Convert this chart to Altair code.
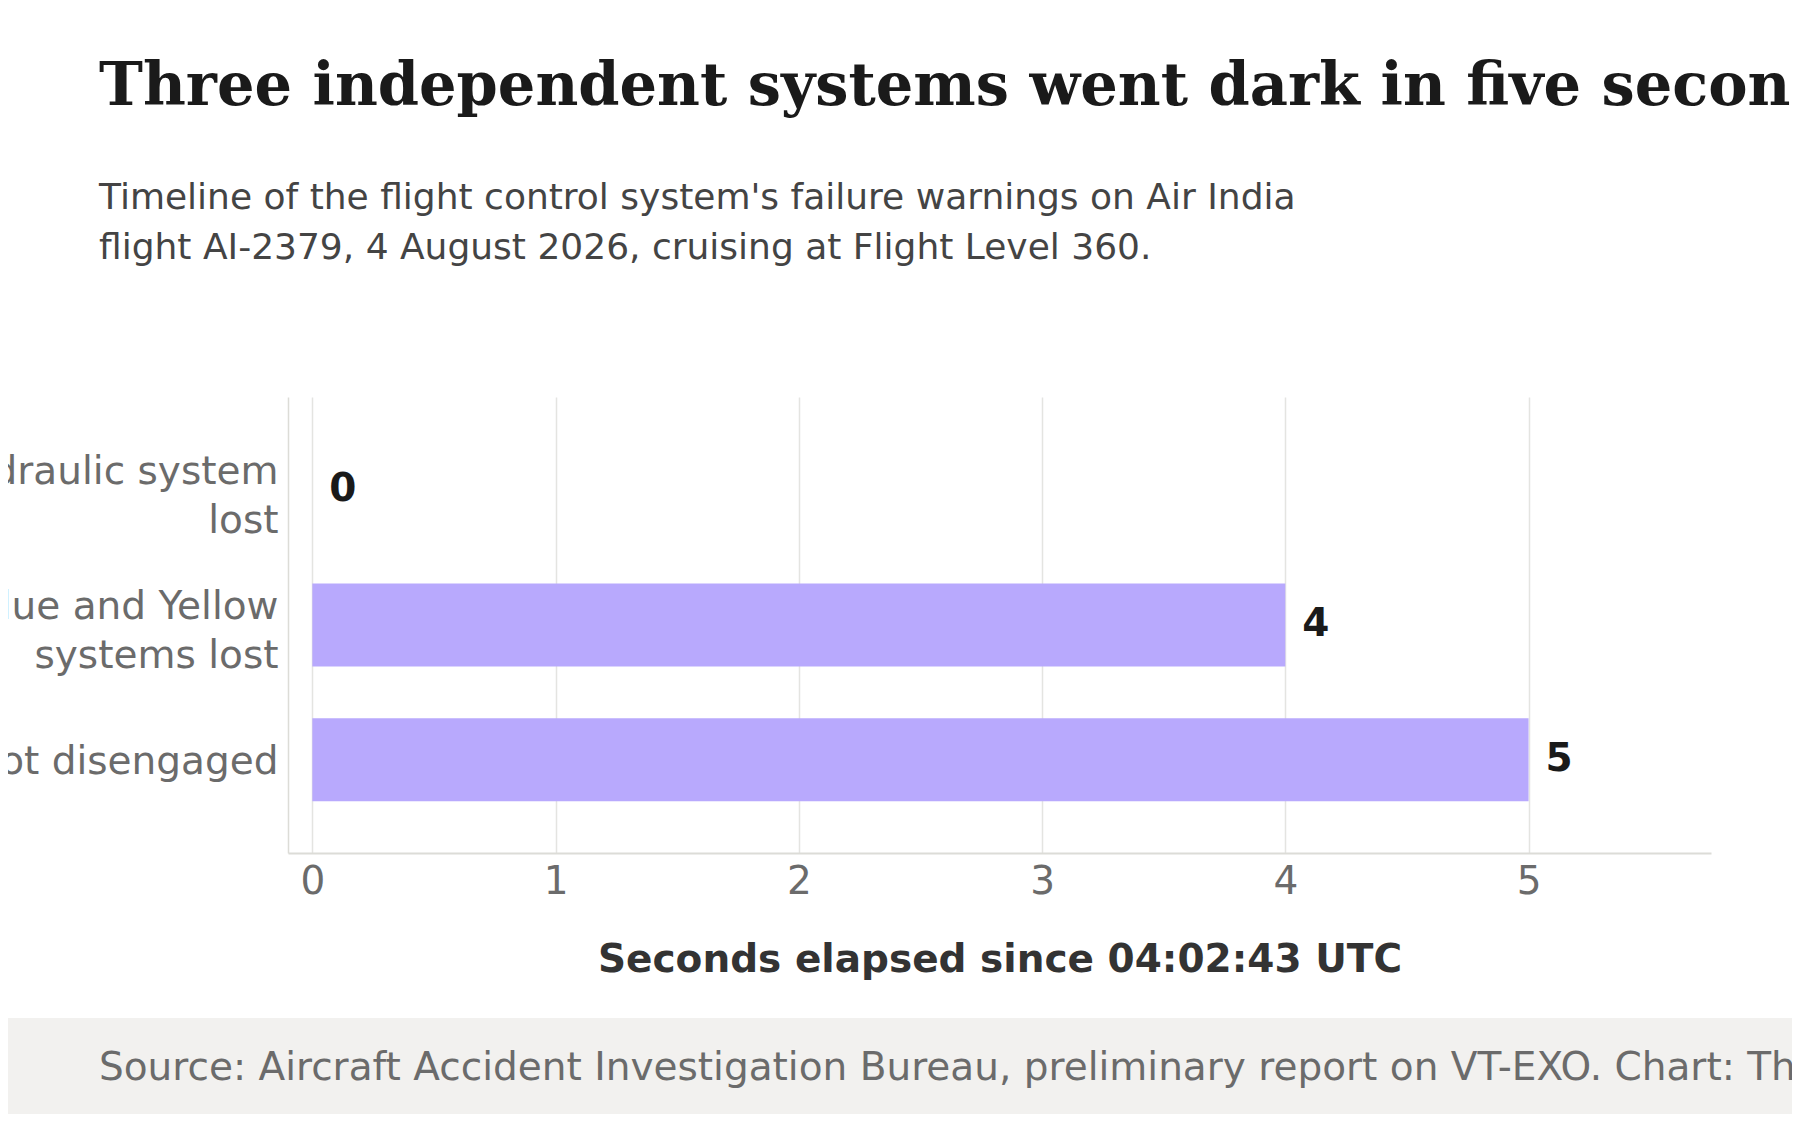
import altair as alt
import pandas as pd

TITLE = "Three independent systems went dark in five seconds"
SUBTITLE = [
    "Timeline of the flight control system's failure warnings on Air India",
    "flight AI-2379, 4 August 2026, cruising at Flight Level 360.",
]
SOURCE = "Source: Aircraft Accident Investigation Bureau, preliminary report on VT-EXO. Chart: The"

EVENT_LINES = [
    ["Green hydraulic system", "lost"],
    ["Blue and Yellow", "systems lost"],
    ["Autopilot disengaged"],
]
EVENTS = [" ".join(lines) for lines in EVENT_LINES]
SECONDS = [0, 4, 5]
TICKS = [0, 1, 2, 3, 4, 5]

BAR = "#b8a9fd"
INK = "#1a1a1a"
MUTED = "#6b6b6b"

df = pd.DataFrame({"event": EVENTS, "seconds": SECONDS})
footer = pd.DataFrame({"text": [SOURCE]})

# multi-line y labels, two-line ones nudged up so the block sits centred
label_expr = "datum.label"
for name, lines in reversed(list(zip(EVENTS, EVENT_LINES))):
    arr = "[" + ", ".join(f"'{l}'" for l in lines) + "]"
    label_expr = f"datum.label == '{name}' ? {arr} : ({label_expr})"
single = [name for name, lines in zip(EVENTS, EVENT_LINES) if len(lines) == 1]
single_test = " || ".join(f"datum.value == '{name}'" for name in single)

y = alt.Y(
    "event:N",
    sort=EVENTS,
    title=None,
    scale=alt.Scale(paddingInner=0.385, paddingOuter=0.385),
    axis=alt.Axis(
        labelExpr=label_expr,
        labelFontSize=39,
        labelLineHeight=49,
        labelColor=MUTED,
        labelPadding=10,
        labelLimit=0,
        labelOffset={"condition": {"test": single_test, "value": 2.5}, "value": -18.5},
        ticks=False,
        domainColor="#dcdcd7",
        domainWidth=1.5,
    ),
)
x = alt.X(
    "seconds:Q",
    title="Seconds elapsed since 04:02:43 UTC",
    scale=alt.Scale(domain=[-0.1, 5.75], nice=False, zero=False),
    axis=alt.Axis(
        values=TICKS,
        format="d",
        labelFontSize=39,
        labelColor=MUTED,
        labelPadding=9,
        ticks=False,
        grid=True,
        gridColor="#e4e4e1",
        gridWidth=1.5,
        domainColor="#dcdcd7",
        domainWidth=2,
        titleFontSize=39,
        titleFontWeight="bold",
        titleColor="#333333",
        titlePadding=39,
    ),
)

bars = alt.Chart(df).mark_bar(color=BAR).encode(x=x, x2=alt.datum(0), y=y)
labels = alt.Chart(df).mark_text(
    align="left", baseline="middle", dx=17, dy=-1, fontSize=39, fontWeight="bold", color=INK
).encode(x=x, y=y, text=alt.Text("seconds:Q", format="d"))

band = alt.Chart(footer).mark_rect(color="#f2f1ef").encode(
    x=alt.value(-300), x2=alt.value(1540), y=alt.value(621), y2=alt.value(730)
)
source = alt.Chart(footer).mark_text(
    align="left", baseline="alphabetic", fontSize=39, color=MUTED
).encode(x=alt.value(-189), y=alt.value(683), text="text:N")

chart = (
    alt.layer(band, source, bars, labels)
    .properties(
        width=1423,
        height=456,
        autosize=alt.AutoSizeParams(type="none"),
        padding={"left": 280, "top": 389, "right": 81, "bottom": 261},
        title=alt.TitleParams(
            text=TITLE,
            subtitle=SUBTITLE,
            anchor="start",
            frame="group",
            dx=-189,
            font="DejaVu Serif",
            fontSize=59,
            fontWeight="bold",
            color=INK,
            subtitleFont="DejaVu Sans",
            subtitleFontSize=36,
            subtitleColor="#444444",
            subtitleLineHeight=50,
            subtitlePadding=64,
            offset=131,
        ),
    )
    .configure(font="DejaVu Sans")
    .configure_view(strokeWidth=0)
)

chart.save("out.html", embed_options={"renderer": "svg", "actions": False})
